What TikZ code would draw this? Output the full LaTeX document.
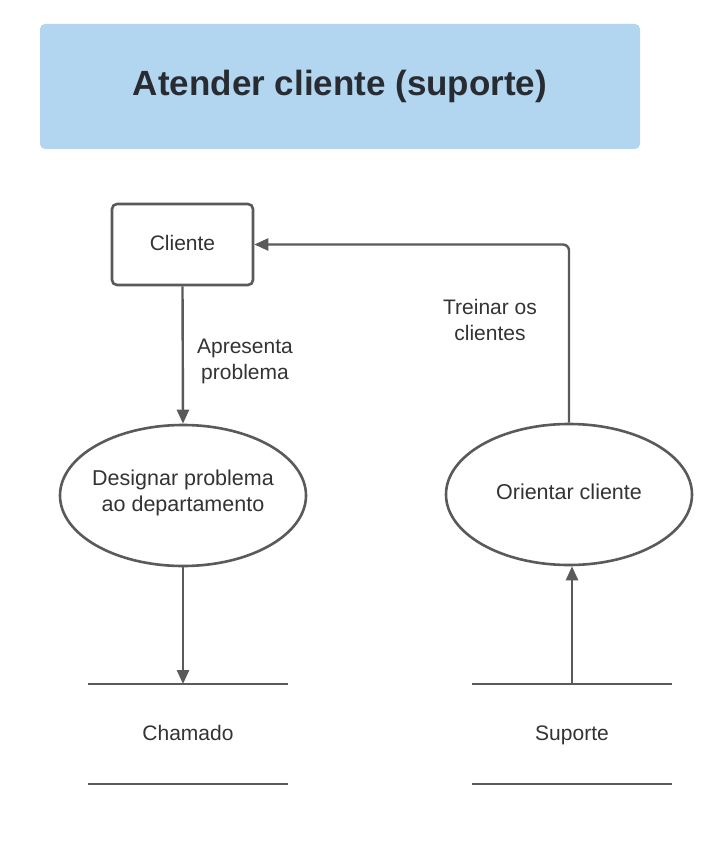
\documentclass[tikz,border=0pt]{standalone}
\usepackage{fontspec}
\setmainfont{Liberation Sans}
\usetikzlibrary{shapes.geometric,arrows.meta}
\definecolor{titlefill}{RGB}{178,214,239}
\definecolor{linegray}{RGB}{90,90,90}
\definecolor{txt}{RGB}{51,51,51}
\definecolor{titletxt}{RGB}{40,44,50}
\tikzset{
  lbl/.style={text=txt,font=\fontsize{21}{26.5}\selectfont,align=center,inner sep=0pt},
  boxnode/.style={draw=linegray,line width=2.6pt,rounded corners=5pt,minimum width=141pt,minimum height=81pt,inner sep=0pt,text=txt,text depth=4pt,font=\fontsize{21}{26.5}\selectfont},
  procnode/.style={ellipse,draw=linegray,line width=2.6pt,minimum width=246pt,minimum height=141pt,inner sep=0pt},
  proctext/.style={text=txt,align=center,inner sep=0pt,font=\fontsize{21.5}{26.7}\selectfont},
  storeline/.style={draw=linegray,line width=2.8pt},
  arr/.style={draw=linegray,line width=2.4pt,-{Triangle[length=14pt,width=12pt]}},
}
\begin{document}
\begin{tikzpicture}[x=1pt,y=-1pt]
\useasboundingbox (0,0) rectangle (720,861);
\fill[white] (0,0) rectangle (720,861);
% title
\node[fill=titlefill,rounded corners=5pt,minimum width=600pt,minimum height=125pt,inner sep=0pt,
      text=titletxt,font=\fontsize{35}{40}\selectfont\bfseries] (title) at (340,86.5) {Atender cliente (suporte)};
% nodes
\node[boxnode] (cliente) at (182.5,244.5) {Cliente};
\node[procnode] (designar) at (183,495.5) {};
\node[proctext] (designarText) at (183,493) {Designar problema\\ao departamento};
\node[procnode] (orientar) at (569,494.5) {};
\node[proctext] (orientarText) at (569,492) {Orientar cliente};
% data stores
\node[lbl,anchor=base] (chamado) at (188,740) {Chamado};
\node[lbl,anchor=base] (suporte) at (572,740) {Suporte};
\draw[storeline] (88,684) -- (288,684);
\draw[storeline] (88,784) -- (288,784);
\draw[storeline] (472,684) -- (672,684);
\draw[storeline] (472,784) -- (672,784);
\coordinate (chTop) at (183,684);
\coordinate (supTop) at (572,684);
% connectors
\draw[arr] (cliente.south) -- (designar.north);
\draw[arr] (designar.south) -- (chTop);
\draw[arr] (supTop) -- (supTop |- orientar.south);
\draw[arr,rounded corners=6pt] (orientar.north) |- (cliente.east);
% labels
\node[lbl] (lblA) at (245,361.5) {Apresenta\\problema};
\node[lbl] (lblT) at (490,320) {Treinar os\\clientes};
\end{tikzpicture}
\end{document}
